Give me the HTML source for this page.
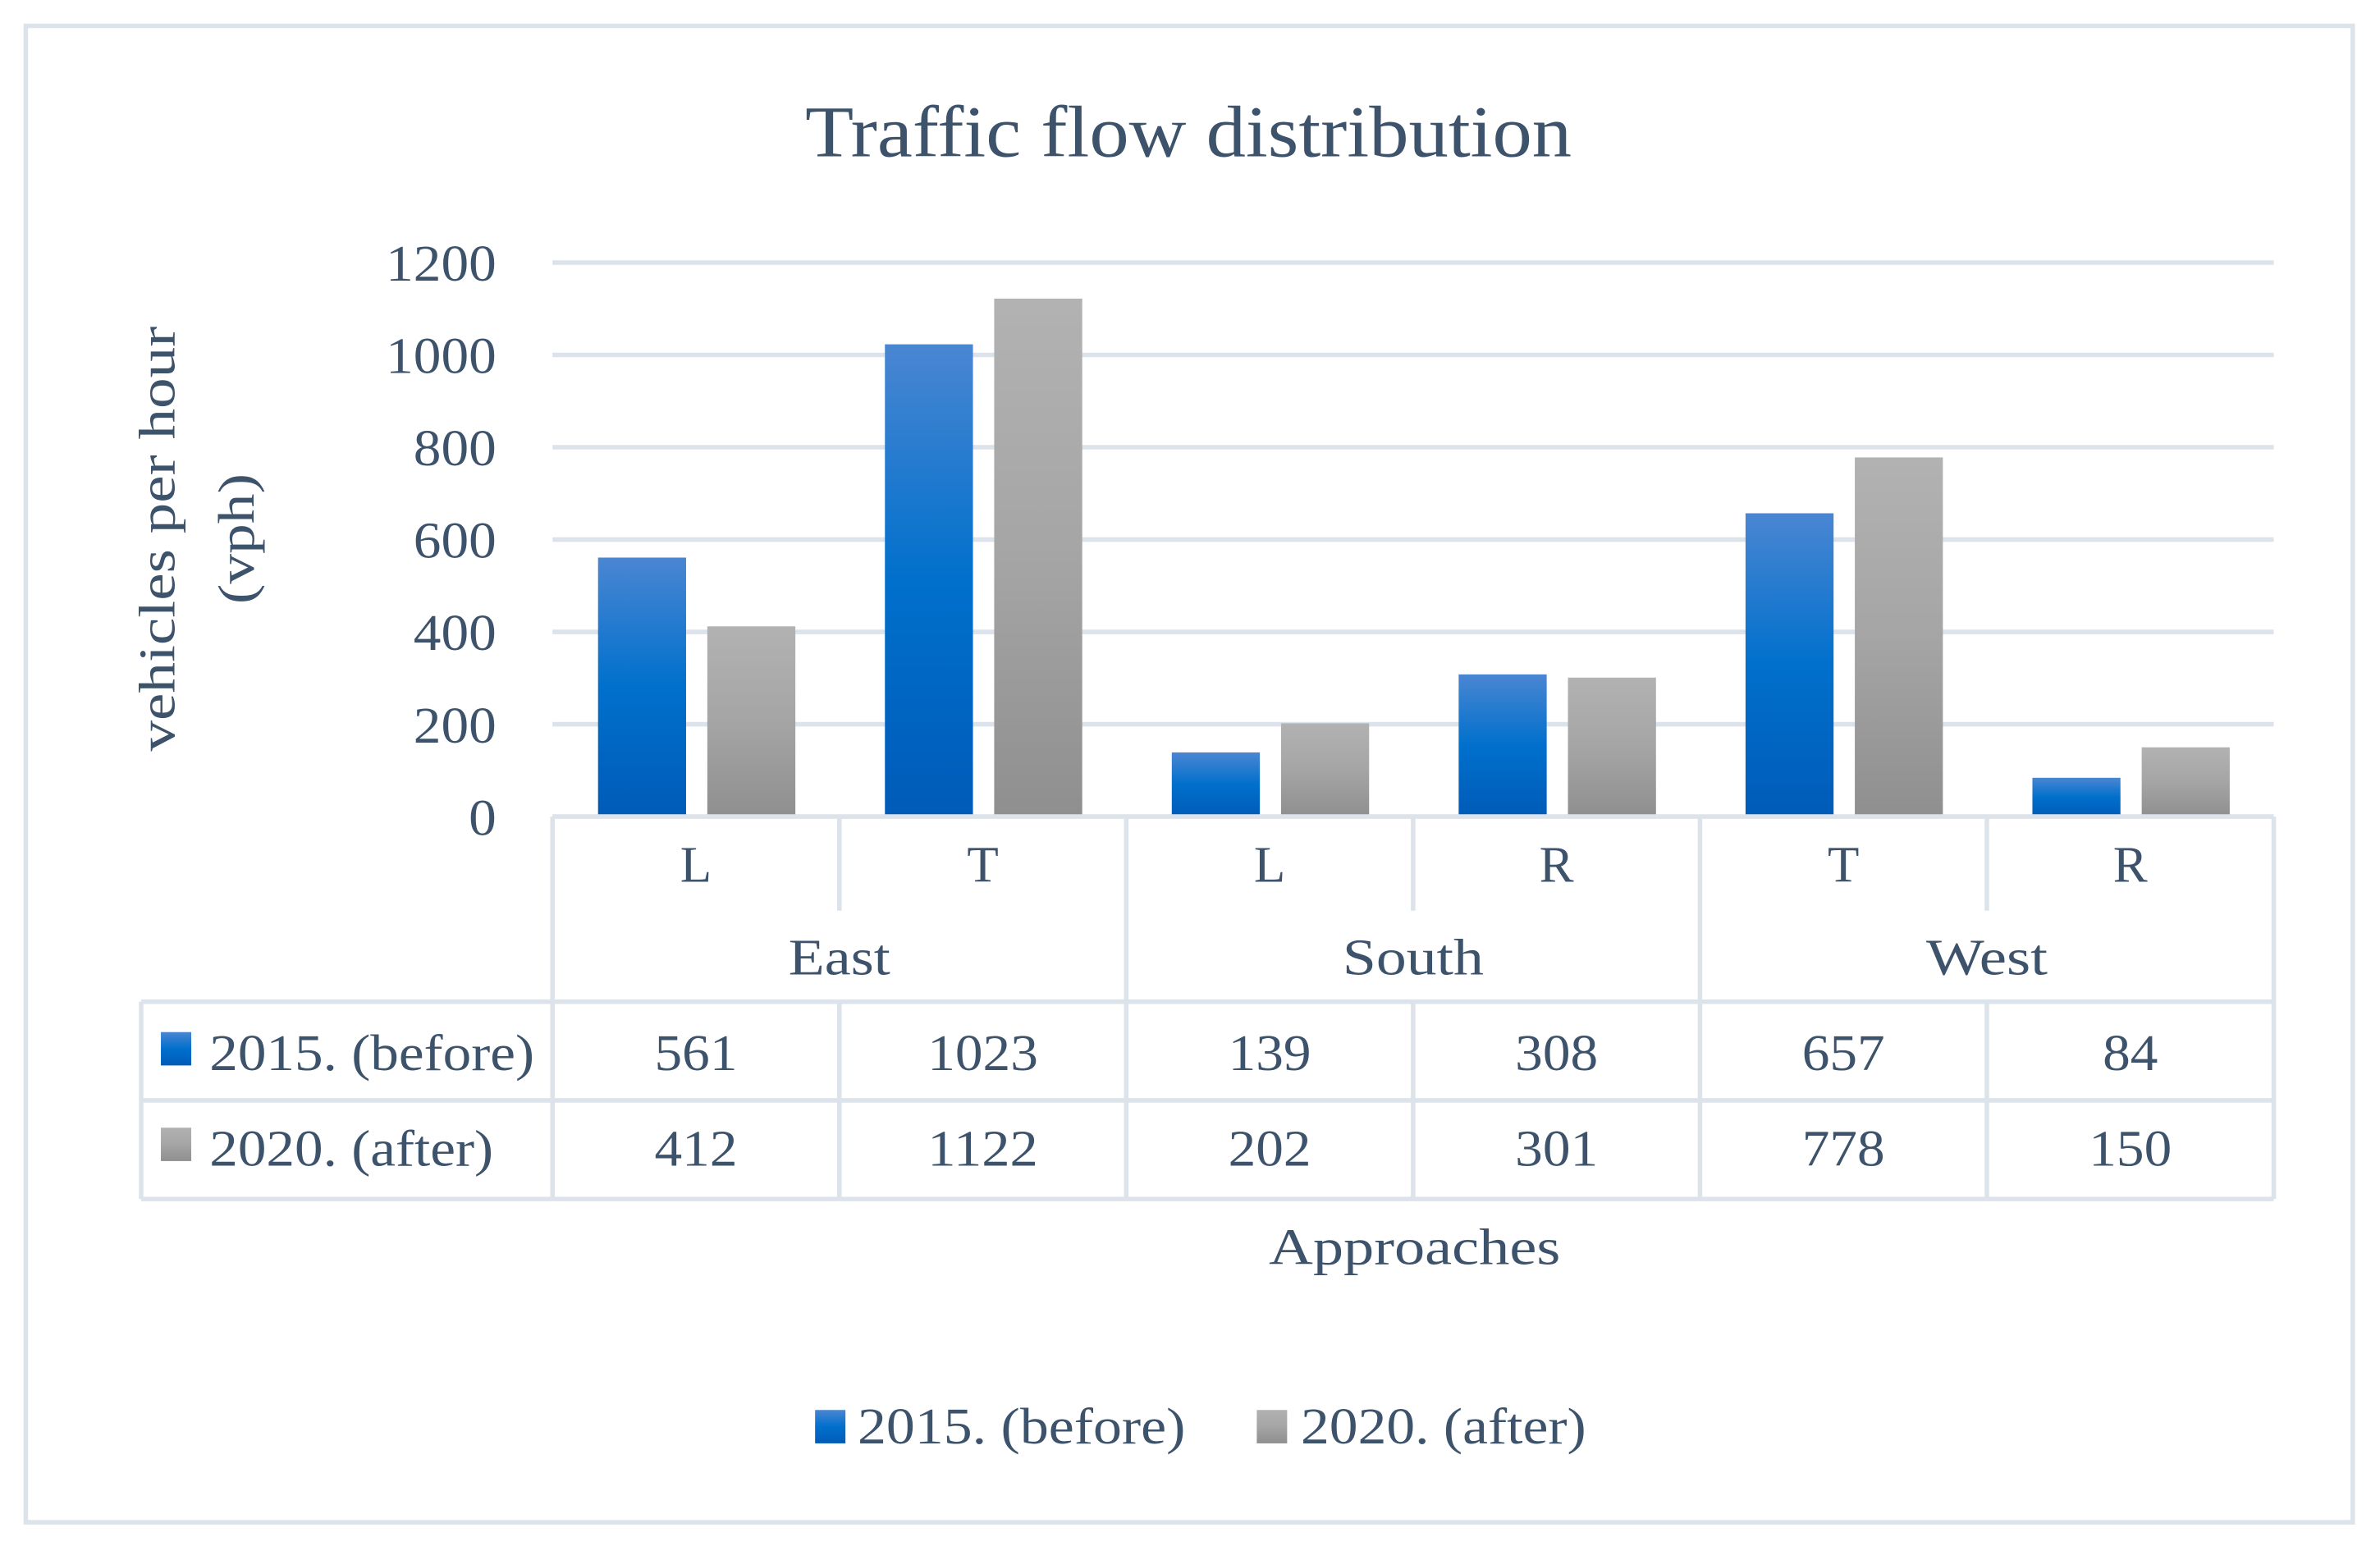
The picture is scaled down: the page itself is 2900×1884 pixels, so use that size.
<!DOCTYPE html>
<html><head><meta charset="utf-8"><style>
html,body{margin:0;padding:0;background:#fff;}
svg{display:block;}
text{font-family:"Liberation Serif",serif;fill:#3d526b;}
</style></head>
<body>
<svg id="chart" width="2900" height="1884" viewBox="0 0 1568 1018.6" xmlns="http://www.w3.org/2000/svg">
<defs>
<linearGradient id="gBlue" x1="0" y1="0" x2="0" y2="1"><stop offset="0" stop-color="#4a86d2"/><stop offset="0.5" stop-color="#0070cc"/><stop offset="1" stop-color="#005bb8"/></linearGradient>
<linearGradient id="gGray" x1="0" y1="0" x2="0" y2="1"><stop offset="0" stop-color="#b2b2b2"/><stop offset="0.5" stop-color="#a5a5a5"/><stop offset="1" stop-color="#8f8f8f"/></linearGradient>
</defs>
<rect x="17" y="17" width="1533" height="986" fill="#fff" stroke="#dde3ea" stroke-width="3"/>
<text x="783" y="103" font-size="48" text-anchor="middle" textLength="505" lengthAdjust="spacingAndGlyphs">Traffic flow distribution</text>
<g transform="translate(130,355) rotate(-90)">
<text x="0" y="-15" font-size="34" text-anchor="middle" textLength="280" lengthAdjust="spacingAndGlyphs">vehicles per hour</text>
<text x="0" y="37" font-size="34" text-anchor="middle" textLength="86" lengthAdjust="spacingAndGlyphs">(vph)</text>
</g>
<g id="grid"></g><g id="bars"></g><g id="table"></g>
<text x="932" y="833" font-size="34" text-anchor="middle" textLength="192" lengthAdjust="spacingAndGlyphs">Approaches</text>
<g>
<rect x="537" y="929" width="20" height="22" fill="url(#gBlue)"/>
<text x="565" y="951" font-size="34" textLength="216" lengthAdjust="spacingAndGlyphs">2015. (before)</text>
<rect x="828" y="929" width="20" height="22" fill="url(#gGray)"/>
<text x="857" y="951" font-size="34" textLength="188" lengthAdjust="spacingAndGlyphs">2020. (after)</text>
</g>
</svg>
<script>
const categories = ["L","T","L","R","T","R"];
const groups = ["East","South","West"];
const series2015 = [561,1023,139,308,657,84];
const series2020 = [412,1122,202,301,778,150];
const seriesNames = ["2015. (before)","2020. (after)"];
const yTicks = [0,200,400,600,800,1000,1200];

const NS="http://www.w3.org/2000/svg";
const X0=364, X1=1498, Y0=538, Ytop=173, YMAX=1200;
const cw=(X1-X0)/categories.length;
function y(v){return Y0-(v/YMAX)*(Y0-Ytop);}
function mk(tag,attrs,parent,txt){const e=document.createElementNS(NS,tag);for(const k in attrs)e.setAttribute(k,attrs[k]);if(txt!==undefined)e.textContent=txt;parent.appendChild(e);return e;}
function fit(e,len){e.setAttribute('textLength',len);e.setAttribute('lengthAdjust','spacingAndGlyphs');}
const grid=document.getElementById('grid'), bars=document.getElementById('bars'), table=document.getElementById('table');
const LC="#dde3ea";
const DW=18.2;
yTicks.forEach(t=>{
  if(t>0){const l=mk('line',{x1:X0,x2:X1,y1:y(t),y2:y(t),stroke:LC,'stroke-width':3},grid);
  
  }
  const tx=mk('text',{x:327,y:y(t)+12,'font-size':34,'text-anchor':'end'},grid,String(t));
  fit(tx,DW*String(t).length);
  
  
});
const bw=58;
categories.forEach((c,i)=>{
  const cx=X0+cw*i;
  const b1=mk('rect',{x:cx+30,y:y(series2015[i]),width:bw,height:Y0-y(series2015[i]),fill:'url(#gBlue)'},bars);
  
  
  const b2=mk('rect',{x:cx+30+bw+14,y:y(series2020[i]),width:bw,height:Y0-y(series2020[i]),fill:'url(#gGray)'},bars);
  
  
  const ct=mk('text',{x:cx+cw/2,y:581,'font-size':34,'text-anchor':'middle'},table,c);
  
  
  const v1=mk('text',{x:cx+cw/2,y:705,'font-size':34,'text-anchor':'middle'},table,String(series2015[i]));
  fit(v1,DW*String(series2015[i]).length);
  
  
  const v2=mk('text',{x:cx+cw/2,y:768,'font-size':34,'text-anchor':'middle'},table,String(series2020[i]));
  fit(v2,DW*String(series2020[i]).length);
  
  
});
const groupW=[67,93,80];
groups.forEach((g,i)=>{
  const t=mk('text',{x:X0+cw*(2*i+1),y:642,'font-size':34,'text-anchor':'middle'},table,g);
  fit(t,groupW[i]);
  
  
});
function ln(x1,y1,x2,y2){mk('line',{x1:x1,y1:y1,x2:x2,y2:y2,stroke:LC,'stroke-width':3},table);}
ln(X0,Y0,X1,Y0);
ln(93,660,X1,660); ln(93,725,X1,725); ln(93,790,X1,790);
ln(93,660,93,790);
for(let i=0;i<=categories.length;i++){
  const x=X0+cw*i;
  if(i%2===0) ln(x,Y0,x,790); else { ln(x,Y0,x,600); ln(x,660,x,790); }
}
const s1=mk('rect',{x:106,y:680,width:20,height:22,fill:'url(#gBlue)'},table);


const l1=mk('text',{x:138,y:705,'font-size':34},table,seriesNames[0]);
fit(l1,214);


const s2=mk('rect',{x:106,y:743,width:20,height:22,fill:'url(#gGray)'},table);


const l2=mk('text',{x:138,y:768,'font-size':34},table,seriesNames[1]);
fit(l2,187);


</script>
</body></html>
